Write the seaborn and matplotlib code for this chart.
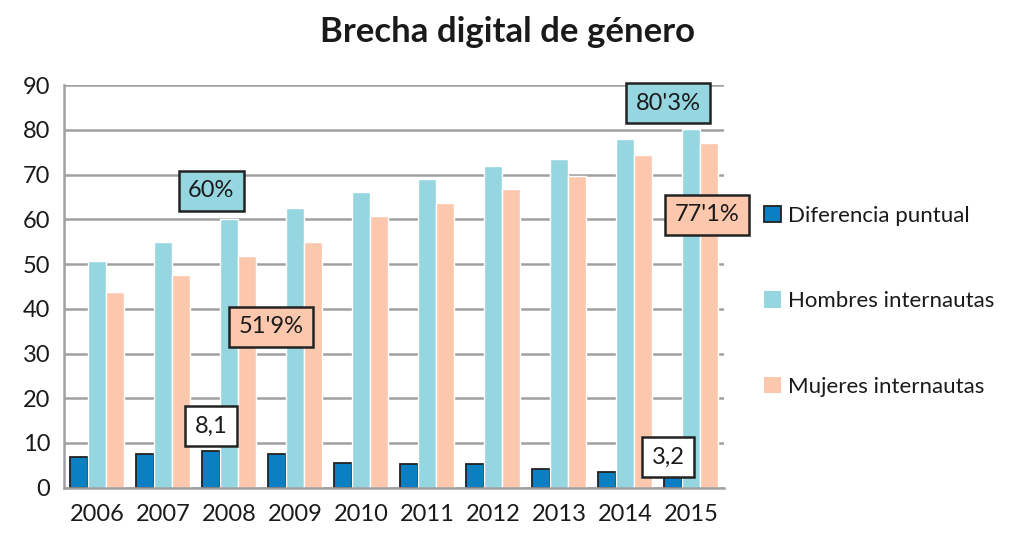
import pandas as pd
import matplotlib.pyplot as plt
import seaborn as sns

years = ['2006', '2007', '2008', '2009', '2010', '2011', '2012', '2013', '2014', '2015']
diferencia = [6.9, 7.6, 8.1, 7.6, 5.6, 5.4, 5.4, 4.2, 3.5, 3.2]
hombres = [50.6, 55.0, 60.0, 62.6, 66.2, 69.1, 72.0, 73.6, 77.9, 80.3]
mujeres = [43.8, 47.6, 51.9, 55.0, 60.8, 63.7, 66.7, 69.6, 74.5, 77.1]
series = ['Diferencia puntual', 'Hombres internautas', 'Mujeres internautas']
colors = ['#0A80C2', '#96D6E0', '#FBC8AE']

df = pd.DataFrame({'year': years * 3,
                   'serie': [series[0]] * 10 + [series[1]] * 10 + [series[2]] * 10,
                   'valor': diferencia + hombres + mujeres})

sns.set_style('white')
plt.rcParams['font.family'] = ['Lato', 'DejaVu Sans']

fig = plt.figure(figsize=(10.16, 5.33), dpi=100)
ax = fig.add_axes([0.063, 0.085, 0.650, 0.755])

sns.barplot(data=df, x='year', y='valor', hue='serie', palette=colors,
            width=0.82, saturation=1, ax=ax, legend=False)

# black edge only on the "diferencia" bars
for p in ax.patches[:10]:
    p.set_edgecolor('#222222')
    p.set_linewidth(1.3)

ax.set_ylim(0, 90)
ax.set_xlim(-0.5, 9.5)
ax.set_yticks(range(0, 91, 10))
ax.yaxis.grid(True, color='#A0A0A0', linewidth=1.8)
ax.set_axisbelow(True)
for s in ['top', 'right']:
    ax.spines[s].set_visible(False)
for s in ['left', 'bottom']:
    ax.spines[s].set_color('#A0A0A0')
    ax.spines[s].set_linewidth(1.8)
ax.set_xticks([i - 0.5 for i in range(11)], minor=True)
ax.tick_params(axis='x', which='major', length=0, labelsize=17, pad=12, colors='#1a1a1a')
ax.tick_params(axis='x', which='minor', length=6, width=1.8, color='#A0A0A0', direction='out')
ax.tick_params(axis='y', length=6, width=1.8, color='#A0A0A0', direction='out', labelsize=17,
               pad=4)
for t in ax.get_yticklabels():
    t.set_color('#1a1a1a')
ax.set_xlabel('')
ax.set_ylabel('')

fig.suptitle('Brecha digital de género', x=0.5, y=0.97, fontsize=25, fontweight='bold',
             color='#1a1a1a')

# value boxes
notes = [
    (2 - 0.27, 13.7, '8,1', 'white'),
    (2 - 0.27, 66.4, '60%', colors[1]),
    (2 + 0.64, 36.0, "51'9%", colors[2]),
    (9 - 0.35, 86.0, "80'3%", colors[1]),
    (9 + 0.24, 61.0, "77'1%", colors[2]),
    (9 - 0.35, 6.8, '3,2', 'white'),
]
for x, y, txt, fc in notes:
    ax.text(x, y, txt, ha='center', va='center', fontsize=17, color='#1a1a1a',
            bbox=dict(boxstyle='square,pad=0.4', fc=fc, ec='#222222', lw=1.8),
            clip_on=False, zorder=5)

handles = [plt.Rectangle((0, 0), 1, 1, fc=colors[0], ec='#222222', lw=1.3),
           plt.Rectangle((0, 0), 1, 1, fc=colors[1], ec='none'),
           plt.Rectangle((0, 0), 1, 1, fc=colors[2], ec='none')]
fig.legend(handles, series, loc='center left', bbox_to_anchor=(0.737, 0.435),
           frameon=False, fontsize=16, handlelength=0.75, handleheight=0.75,
           handletextpad=0.3, labelspacing=2.95, labelcolor='#1a1a1a',
           borderpad=0.2)

fig.savefig('out.png', dpi=100)
